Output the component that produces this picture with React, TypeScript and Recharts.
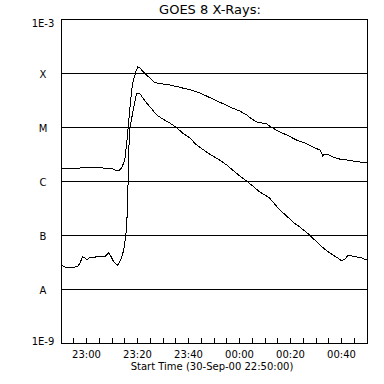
import React from 'react';
import { LineChart, Line, XAxis, YAxis, ReferenceLine, ReferenceArea } from 'recharts';

// minutes after 22:50 and flux in W/m^2
const longTimes = [0, 1.8, 3.4, 5.4, 7.3, 9.7, 13.2, 16.4, 18.3, 20.3, 21.8, 23.0, 23.8, 25.0, 25.8, 26.5, 27.3, 28.1, 29.3, 30.1, 30.9, 32.0, 33.6, 35.2, 36.4, 37.5, 39.9, 42.6, 45.4, 47.7, 50.5, 54.4, 59.5, 63.0, 66.2, 70.1, 72.8, 74.8, 76.7, 78.7, 80.6, 83.0, 85.8, 88.5, 92.4, 95.6, 98.7, 101.5, 102.2, 102.6, 103.4, 104.2, 106.6, 109.3, 112.0, 114.4, 117.1, 120];
const longFlux = [1.74e-6, 1.74e-6, 1.67e-6, 1.67e-6, 1.74e-6, 1.78e-6, 1.78e-6, 1.74e-6, 1.74e-6, 1.67e-6, 1.56e-6, 1.6e-6, 1.74e-6, 2.45e-6, 5.06e-6, 1.19e-5, 3.16e-5, 6.53e-5, 1.04e-4, 1.29e-4, 1.24e-4, 1.09e-4, 9.18e-5, 7.74e-5, 6.81e-5, 6.53e-5, 6.26e-5, 6.0e-5, 5.62e-5, 5.27e-5, 4.9e-5, 4.3e-5, 3.3e-5, 2.78e-5, 2.35e-5, 1.98e-5, 1.67e-5, 1.41e-5, 1.24e-5, 1.19e-5, 1.14e-5, 9.58e-6, 8.08e-6, 7.11e-6, 5.74e-6, 5.06e-6, 4.26e-6, 3.75e-6, 3.3e-6, 2.9e-6, 3.16e-6, 3.16e-6, 2.78e-6, 2.55e-6, 2.45e-6, 2.35e-6, 2.25e-6, 2.16e-6];

const shortTimes = [0, 0.7, 1.5, 3.4, 5.4, 6.6, 7.3, 8.1, 8.5, 9.3, 10.1, 11.3, 12.4, 13.6, 15.2, 16.4, 17.1, 17.9, 18.7, 19.5, 20.3, 21.1, 22.2, 23.0, 23.8, 24.6, 25.0, 25.4, 25.8, 26.1, 26.3, 26.6, 26.9, 28.1, 28.9, 29.7, 30.5, 31.3, 32.4, 33.6, 35.6, 37.5, 39.9, 42.6, 45.0, 47.7, 50.5, 53.2, 57.1, 59.5, 62.2, 65.0, 67.3, 70.1, 72.8, 75.2, 77.9, 79.9, 81.8, 83.8, 85.8, 88.5, 90.9, 93.6, 95.6, 97.5, 99.5, 101.5, 103.8, 106.6, 108.5, 110.1, 111.3, 112.4, 114.0, 115.9, 117.9, 120];
const shortFlux = [2.78e-8, 2.67e-8, 2.55e-8, 2.55e-8, 2.55e-8, 2.67e-8, 2.9e-8, 3.59e-8, 3.92e-8, 3.75e-8, 3.44e-8, 3.92e-8, 3.75e-8, 3.92e-8, 4.09e-8, 3.92e-8, 3.92e-8, 4.26e-8, 4.64e-8, 4.09e-8, 3.44e-8, 3.03e-8, 2.78e-8, 3.16e-8, 3.92e-8, 5.27e-8, 7.11e-8, 1.0e-7, 1.53e-7, 4.45e-7, 9.18e-7, 3.75e-6, 8.8e-6, 1.82e-5, 2.9e-5, 4.26e-5, 4.26e-5, 3.92e-5, 3.3e-5, 2.78e-5, 2.16e-5, 1.67e-5, 1.41e-5, 1.19e-5, 1.0e-5, 7.74e-6, 6.26e-6, 4.64e-6, 3.44e-6, 2.9e-6, 2.45e-6, 1.98e-6, 1.6e-6, 1.24e-6, 1.0e-6, 8.08e-7, 6.26e-7, 5.51e-7, 4.84e-7, 3.75e-7, 2.9e-7, 2.25e-7, 1.74e-7, 1.41e-7, 1.19e-7, 1.0e-7, 8.08e-8, 6.53e-8, 5.27e-8, 4.26e-8, 3.75e-8, 3.3e-8, 3.59e-8, 4.09e-8, 4.09e-8, 3.92e-8, 3.75e-8, 3.44e-8];

const xTicks = [5, 10, 15, 20, 25, 30, 35, 40, 45, 50, 55, 60, 65, 70, 75, 80, 85, 90, 95, 100, 105, 110, 115];
const xLabelTicks = [10, 30, 50, 70, 90, 110];
const xLabels = ['23:00', '23:20', '23:40', '00:00', '00:20', '00:40'];

const yTicks = [1e-9, 1e-8, 1e-7, 1e-6, 1e-5, 1e-4, 1e-3];
const yLabels = ['1E-9', 'A', 'B', 'C', 'M', 'X', '1E-3'];
const classLevels = [1e-8, 1e-7, 1e-6, 1e-5, 1e-4];

const longData = longTimes.map((t, i) => ({ t, f: longFlux[i] }));
const shortData = shortTimes.map((t, i) => ({ t, f: shortFlux[i] }));

const FONT = '"DejaVu Sans", sans-serif';

const BottomTick = ({ x, y, payload }: any) => {
  const idx = xLabelTicks.indexOf(payload.value);
  return (
    <g>
      <line x1={x} x2={x} y1={y} y2={y - 5} stroke="#000" shapeRendering="crispEdges" />
      {idx >= 0 && (
        <text x={x} y={y + 15} textAnchor="middle" fontSize={10} fontFamily={FONT} fill="#000">
          {xLabels[idx]}
        </text>
      )}
    </g>
  );
};

const TopTick = ({ x, y }: any) => <line x1={x} x2={x} y1={y} y2={y + 5} stroke="#000" shapeRendering="crispEdges" />;

const LeftTick = ({ x, y, index }: any) => {
  const dy = index === yLabels.length - 1 ? 8 : index === 0 ? 2 : 5;
  return (
    <text x={x - 18} y={y + dy} textAnchor="middle" fontSize={10} fontFamily={FONT} fill="#000">
      {yLabels[index]}
    </text>
  );
};

export default function App() {
  return (
    <div style={{ position: 'absolute', left: 0, top: 0, width: 384, height: 384, background: '#fff', fontFamily: FONT }}>
      <div style={{ position: 'absolute', left: 0, width: 420, top: 3, textAlign: 'center', fontSize: 13, lineHeight: '13px' }}>
        GOES 8 X-Rays:
      </div>
      <LineChart width={384} height={384} margin={{ top: 19, right: 17, bottom: 0, left: 0 }}>
        <XAxis dataKey="t" type="number" domain={[0, 120]} ticks={xTicks} interval={0}
          axisLine={false} tickLine={false} tickSize={0} tickMargin={0} height={41} tick={<BottomTick />} />
        <XAxis xAxisId="top" dataKey="t" type="number" domain={[0, 120]} ticks={xTicks} interval={0}
          orientation="top" axisLine={false} tickLine={false} tickSize={0} tickMargin={0} height={0} tick={<TopTick />} />
        <YAxis dataKey="f" type="number" scale="log" domain={[1e-9, 1e-3]} ticks={yTicks} interval={0}
          axisLine={false} tickLine={false} tickSize={0} tickMargin={0} width={61} tick={<LeftTick />} allowDataOverflow />
        {classLevels.map(v => (
          <ReferenceLine key={v} y={v} stroke="#000" strokeWidth={1} shapeRendering="crispEdges" />
        ))}
        <ReferenceArea x1={0} x2={120} y1={1e-9} y2={1e-3} fill="none" fillOpacity={0} stroke="#000" strokeOpacity={1} shapeRendering="crispEdges" />
        <Line data={longData} dataKey="f" type="linear" stroke="#000" strokeWidth={1} dot={false} isAnimationActive={false} shapeRendering="crispEdges" />
        <Line data={shortData} dataKey="f" type="linear" stroke="#000" strokeWidth={1} dot={false} isAnimationActive={false} shapeRendering="crispEdges" />
      </LineChart>
      <div style={{ position: 'absolute', left: 0, width: 424, top: 362, textAlign: 'center', fontSize: 10, lineHeight: '10px' }}>
        Start Time (30-Sep-00 22:50:00)
      </div>
    </div>
  );
}
